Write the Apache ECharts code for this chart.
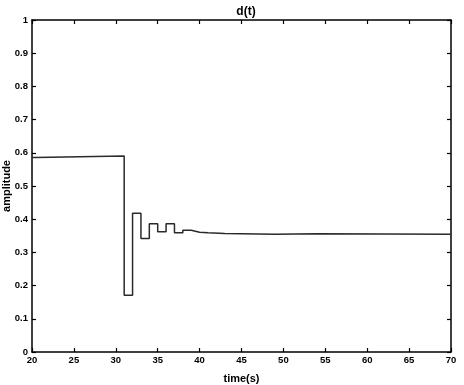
<!DOCTYPE html>
<html><head><meta charset="utf-8">
<script src="https://cdn.jsdelivr.net/npm/echarts@6/dist/echarts.min.js"></script>
<style>html,body{margin:0;padding:0;background:#fff}#c{width:464px;height:385px}</style>
</head><body><div id="c"></div>
<script>
var times  = [20, 20.4, 31, 32, 33, 34, 35, 36, 37, 38, 39, 40, 41, 43, 49, 54, 70];
var values = [0.586, 0.590, 0.171, 0.418, 0.342, 0.386, 0.362, 0.386, 0.359, 0.367, 0.361, 0.359, 0.357, 0.355, 0.356, 0.355, 0.355];
var xTicks = [20, 25, 30, 35, 40, 45, 50, 55, 60, 65, 70];
var yTicks = [0, 0.1, 0.2, 0.3, 0.4, 0.5, 0.6, 0.7, 0.8, 0.9, 1];
var titleText = 'd(t)', xName = 'time(s)', yName = 'amplitude';

// zero-order hold: each value holds until the next time
var data = [];
times.forEach(function(t, i){
  if (i > 0) data.push([t, values[i-1]]);
  data.push([t, values[i]]);
});
var font = 'Liberation Sans, Arial, sans-serif';
var lbl = {color:'#000', fontFamily:font, fontWeight:'bold', fontSize:9.5};
function axisBase(extra){
  var o = {
    axisLine:{show:true, onZero:false, lineStyle:{color:'#000', width:1.5}},
    axisTick:{show:true, inside:true, length:4, lineStyle:{color:'#000', width:1.2}},
    splitLine:{show:false}
  };
  for (var k in extra) o[k] = extra[k];
  return o;
}
var chart = echarts.init(document.getElementById('c'));
chart.setOption({
  animation:false,
  backgroundColor:'#fff',
  title:{text:titleText, left:241, top:1, textAlign:'center',
    textStyle:{fontFamily:font, fontWeight:'bold', fontSize:12, color:'#000'}},
  grid:{left:32, right:13, top:20, bottom:33, containLabel:false, outerBoundsMode:'none'},
  xAxis:[
    axisBase({type:'value', min:xTicks[0], max:xTicks[xTicks.length-1], interval:5, position:'bottom',
      name:xName, nameLocation:'middle', nameGap:21, nameMoveOverlap:false,
      nameTextStyle:{fontFamily:font, fontWeight:'bold', fontSize:11, color:'#000'},
      axisLabel:Object.assign({margin:3}, lbl)}),
    axisBase({type:'value', min:xTicks[0], max:xTicks[xTicks.length-1], interval:5, position:'top',
      axisLabel:{show:false}})
  ],
  yAxis:[
    axisBase({type:'value', min:yTicks[0], max:yTicks[yTicks.length-1], interval:0.1, position:'left',
      name:yName, nameLocation:'middle', nameGap:20, nameMoveOverlap:false,
      nameTextStyle:{fontFamily:font, fontWeight:'bold', fontSize:11, color:'#000'},
      axisLabel:Object.assign({margin:4, formatter:function(v){return String(Math.round(v*10)/10);}}, lbl)}),
    axisBase({type:'value', min:yTicks[0], max:yTicks[yTicks.length-1], interval:0.1, position:'right',
      axisLabel:{show:false}})
  ],
  series:[{
    type:'line', data:data, xAxisIndex:0, yAxisIndex:0,
    showSymbol:false, symbol:'none', sampling:null,
    lineStyle:{color:'#2a2a2a', width:1.5}
  }]
});
</script></body></html>
